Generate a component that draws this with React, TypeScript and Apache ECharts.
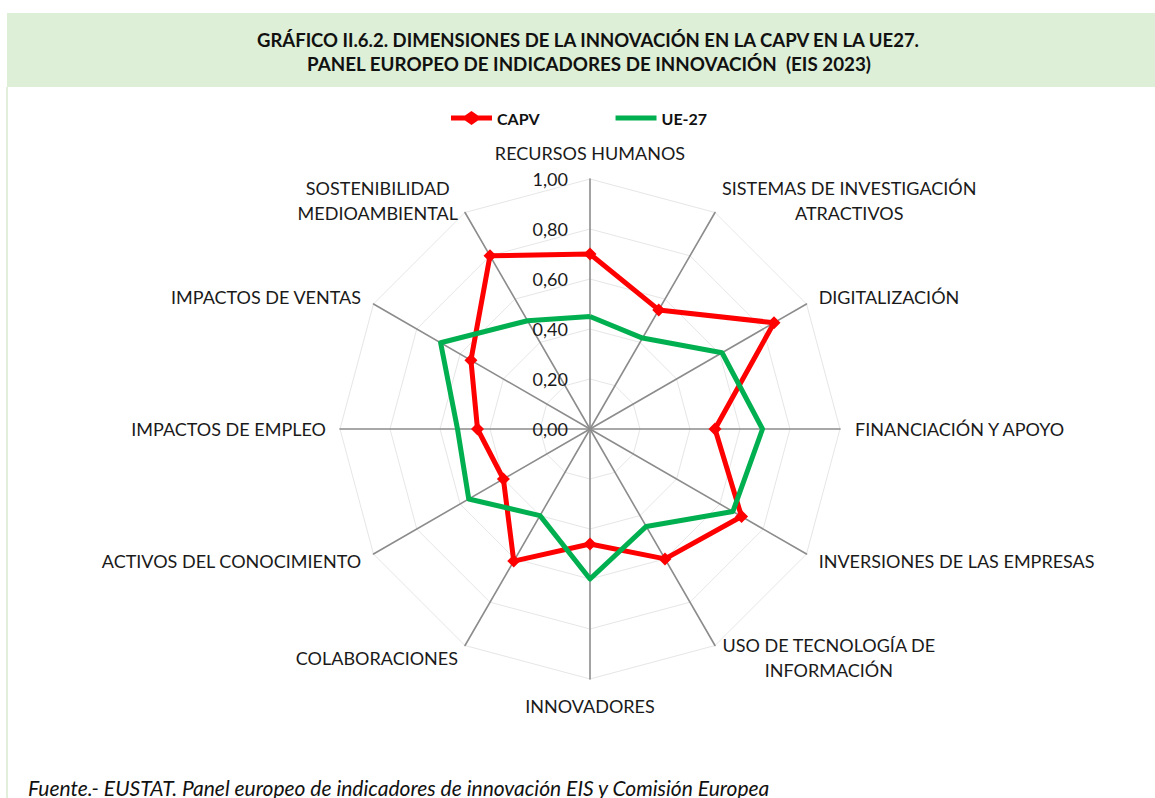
import React, { useEffect, useRef } from "react";
import * as echarts from "echarts";

const TITLE_LINES = [
  "GRÁFICO II.6.2. DIMENSIONES DE LA INNOVACIÓN EN LA CAPV EN LA UE27.",
  "PANEL EUROPEO DE INDICADORES DE INNOVACIÓN  (EIS 2023)",
];
const SOURCE = "Fuente.- EUSTAT. Panel europeo de indicadores de innovación EIS y Comisión Europea";

// Listed clockwise starting from the top axis
const CATEGORIES = [
  "RECURSOS HUMANOS",
  "SISTEMAS DE INVESTIGACIÓN\nATRACTIVOS",
  "DIGITALIZACIÓN",
  "FINANCIACIÓN Y APOYO",
  "INVERSIONES DE LAS EMPRESAS",
  "USO DE TECNOLOGÍA DE\nINFORMACIÓN",
  "INNOVADORES",
  "COLABORACIONES",
  "ACTIVOS DEL CONOCIMIENTO",
  "IMPACTOS DE EMPLEO",
  "IMPACTOS DE VENTAS",
  "SOSTENIBILIDAD\nMEDIOAMBIENTAL",
];

const SERIES_NAMES = ["CAPV", "UE-27"];
const CAPV = [0.70, 0.55, 0.85, 0.50, 0.70, 0.60, 0.46, 0.61, 0.40, 0.45, 0.55, 0.80];
const UE27 = [0.45, 0.42, 0.61, 0.69, 0.66, 0.45, 0.60, 0.40, 0.56, 0.53, 0.69, 0.50];

const FONT = "Lato, 'Open Sans', sans-serif";

// ECharts radar goes counter-clockwise: keep the first item at the top and reverse the rest
function clockwise<T>(arr: T[]): T[] {
  return [arr[0], ...arr.slice(1).reverse()];
}

const ICON_CAPV =
  "path://M0,4.5L14,4.5L20.5,0L27,4.5L41,4.5L41,9.5L27,9.5L20.5,14L14,9.5L0,9.5Z";
const ICON_UE = "path://M0,4.5L41,4.5L41,9.5L0,9.5Z";

export default function App() {
  const ref = useRef<HTMLDivElement>(null);

  useEffect(() => {
    if (!ref.current) return;
    const chart = echarts.init(ref.current, undefined, { renderer: "svg" });

    const cats = clockwise(CATEGORIES);
    const indicator = cats.map((name, i) => ({
      name,
      min: 0,
      max: 1,
      axisLabel: i === 0 ? { show: true } : { show: false },
    }));

    chart.setOption({
      animation: false,
      backgroundColor: "#ffffff",
      textStyle: { fontFamily: FONT },
      graphic: [
        {
          type: "rect",
          shape: { x: 7, y: 13, width: 1160, height: 74 },
          style: { fill: "#DDEFD6" },
          silent: true,
        },
        {
          type: "line",
          shape: { x1: 7, y1: 87, x2: 7, y2: 798 },
          style: { stroke: "#E2EFDA", lineWidth: 2 },
          silent: true,
        },
        {
          type: "text",
          x: 588,
          y: 40,
          style: {
            text: TITLE_LINES[0],
            font: `bold 18.5px ${FONT}`,
            fill: "#111111",
            align: "center",
            verticalAlign: "middle",
          },
        },
        {
          type: "text",
          x: 589,
          y: 63,
          style: {
            text: TITLE_LINES[1],
            font: `bold 18.8px ${FONT}`,
            fill: "#111111",
            align: "center",
            verticalAlign: "middle",
          },
        },
        {
          type: "text",
          x: 28,
          y: 787,
          style: {
            text: SOURCE,
            font: `italic 21px ${FONT}`,
            fill: "#111111",
            align: "left",
            verticalAlign: "middle",
          },
        },
      ],
      legend: {
        data: [
          { name: SERIES_NAMES[0], icon: ICON_CAPV },
          { name: SERIES_NAMES[1], icon: ICON_UE },
        ],
        left: 446,
        top: 105,
        itemWidth: 41,
        itemHeight: 14,
        itemGap: 76,
        textStyle: { fontFamily: FONT, fontSize: 16, fontWeight: "bold", color: "#111111" },
      },
      radar: {
        center: [590, 429],
        radius: 250,
        startAngle: 90,
        shape: "polygon",
        splitNumber: 5,
        nameGap: 14,
        axisName: {
          color: "#1a1a1a",
          fontSize: 18,
          fontFamily: FONT,
          formatter: (name: string) =>
            name
              .split("\n")
              .map((l) => `{c|${l}}`)
              .join("\n"),
          rich: {
            c: { align: "center", fontSize: 18, fontFamily: FONT, color: "#1a1a1a", lineHeight: 25 },
          },
        },
        axisLine: { lineStyle: { color: "#8c8c8c", width: 1.6 } },
        axisTick: { show: false },
        axisLabel: {
          show: false,
          fontSize: 18,
          fontFamily: FONT,
          color: "#1a1a1a",
          margin: 22,
          formatter: (v: number) => v.toFixed(2).replace(".", ","),
        },
        splitLine: { lineStyle: { color: "#e6e6e6", width: 1 } },
        splitArea: { show: false },
        indicator,
      },
      series: [
        {
          type: "radar",
          data: [
            {
              name: SERIES_NAMES[0],
              value: clockwise(CAPV),
              symbol: "diamond",
              symbolSize: 13,
              lineStyle: { color: "#FF0000", width: 5 },
              itemStyle: { color: "#FF0000" },
            },
            {
              name: SERIES_NAMES[1],
              value: clockwise(UE27),
              symbol: "none",
              lineStyle: { color: "#00B050", width: 5 },
              itemStyle: { color: "#00B050" },
            },
          ],
        },
      ],
    });

    return () => chart.dispose();
  }, []);

  return (
    <div
      ref={ref}
      style={{ position: "fixed", left: 0, top: 0, width: 1155, height: 798 }}
    />
  );
}
